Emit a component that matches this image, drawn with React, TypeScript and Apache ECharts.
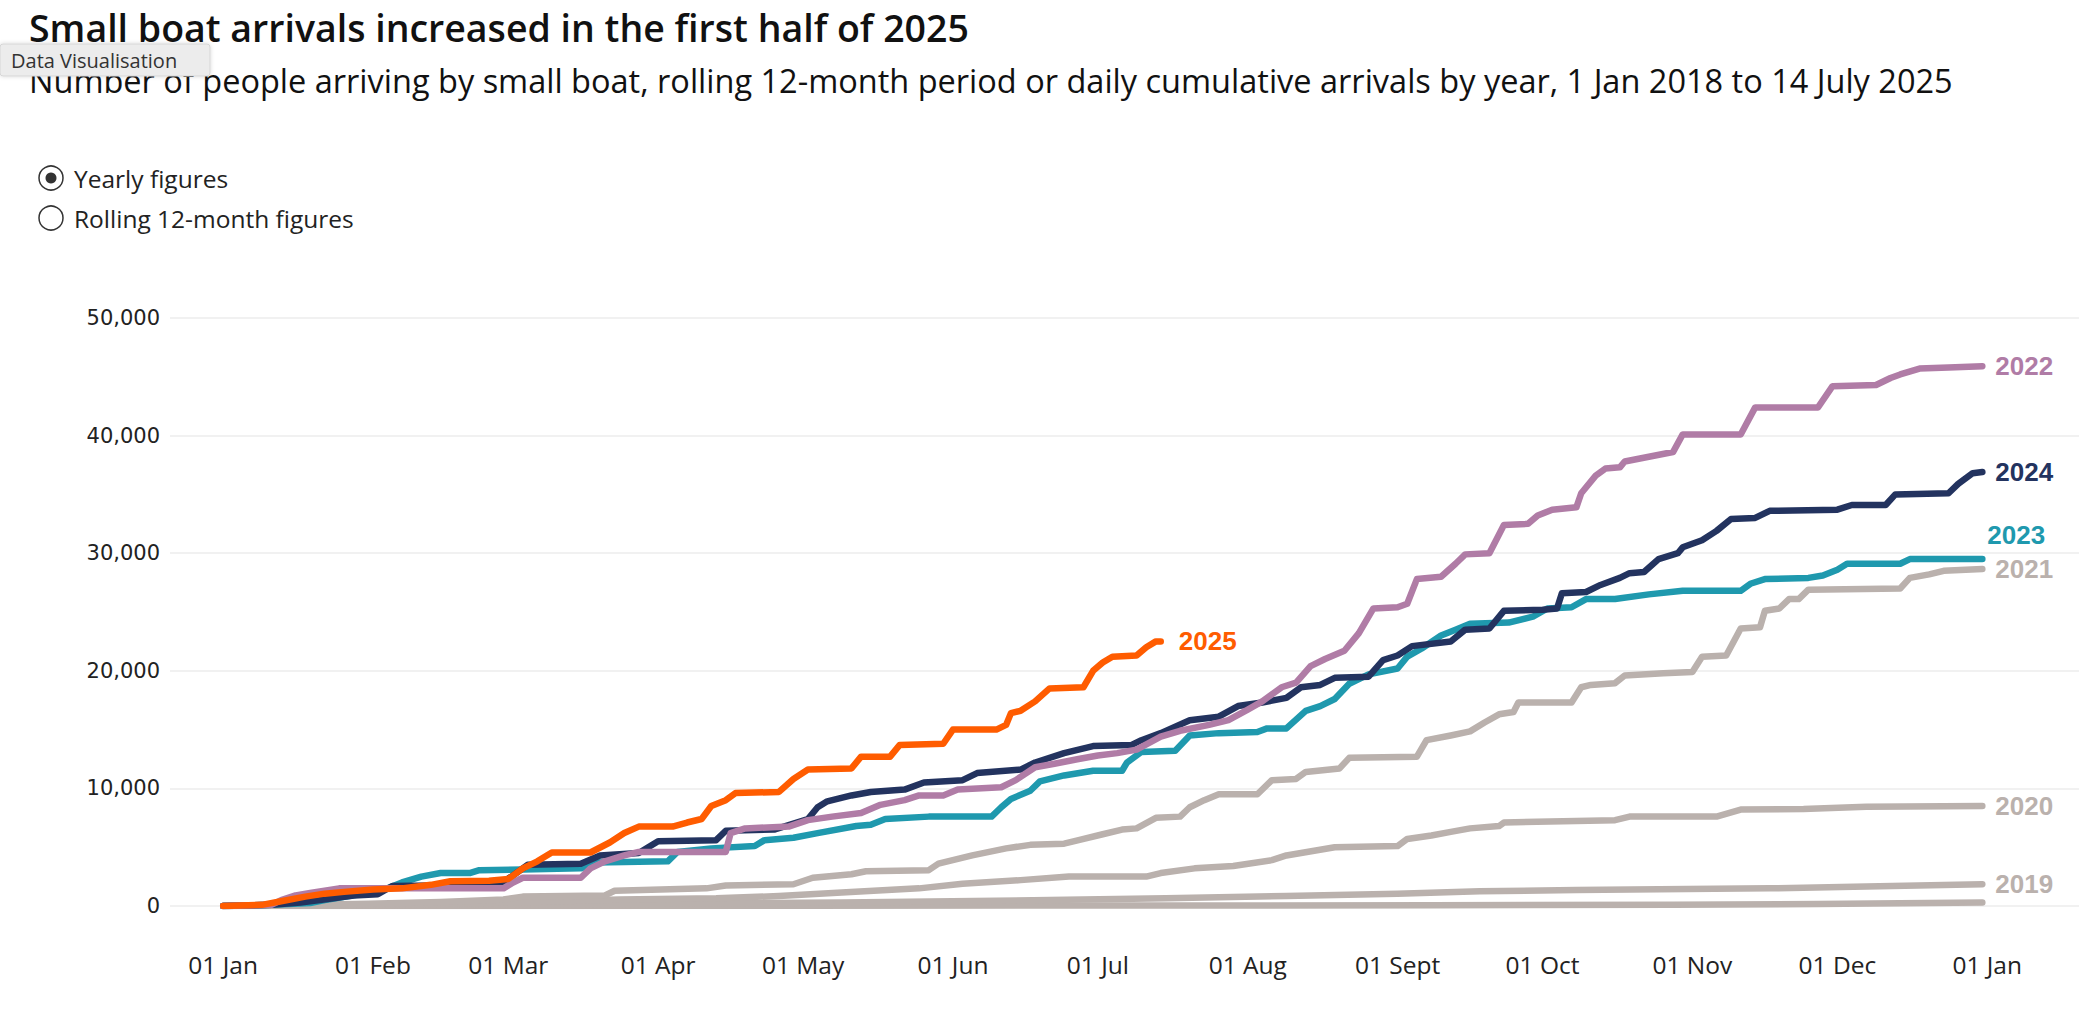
import React, { useEffect, useRef } from "react";
import * as echarts from "echarts";

// Day-of-year (0 = 1 Jan) at which each x-axis label sits
const monthStartDays = [0, 31, 59, 90, 120, 151, 181, 212, 243, 273, 304, 334, 365];
const monthLabels = ["01 Jan", "01 Feb", "01 Mar", "01 Apr", "01 May", "01 Jun", "01 Jul", "01 Aug", "01 Sept", "01 Oct", "01 Nov", "01 Dec", "01 Jan"];

// Cumulative arrivals by day of year: [day, people]
const y2018: [number, number][] = [[0, 0], [120, 20], [250, 60], [300, 100], [330, 170], [364, 300]];
const y2019: [number, number][] = [[0, 0], [30, 80], [60, 150], [90, 200], [128, 300], [160, 450], [195, 650], [220, 850], [243, 1050], [260, 1250], [280, 1350], [320, 1500], [340, 1650], [364, 1850]];
const y2020: [number, number][] = [[0, 0], [20, 100], [45, 200], [60, 300], [82, 550], [102, 650], [115, 850], [128, 1150], [144, 1500], [153, 1900], [165, 2200], [175, 2500], [191, 2500], [194, 2800], [201, 3200], [209, 3400], [217, 3900], [220, 4300], [230, 5000], [243, 5100], [245, 5700], [250, 6000], [254, 6300], [258, 6600], [264, 6800], [265, 7100], [288, 7300], [291, 7600], [309, 7600], [314, 8200], [327, 8250], [340, 8450], [364, 8500]];
const y2021: [number, number][] = [[0, 0], [15, 80], [30, 200], [45, 350], [58, 550], [62, 800], [79, 900], [81, 1300], [100, 1500], [104, 1750], [118, 1850], [122, 2400], [130, 2700], [133, 2950], [146, 3050], [148, 3600], [155, 4300], [162, 4900], [167, 5200], [174, 5300], [177, 5600], [182, 6100], [186, 6500], [189, 6600], [193, 7500], [198, 7600], [200, 8400], [203, 9000], [206, 9500], [214, 9500], [217, 10700], [222, 10800], [224, 11400], [231, 11700], [233, 12600], [247, 12700], [249, 14100], [254, 14500], [258, 14850], [261, 15600], [264, 16300], [267, 16500], [268, 17300], [279, 17300], [281, 18600], [283, 18800], [288, 18950], [290, 19600], [298, 19800], [304, 19900], [306, 21200], [311, 21300], [314, 23600], [318, 23700], [319, 25100], [322, 25300], [324, 26100], [326, 26100], [328, 26900], [347, 27000], [349, 27900], [353, 28200], [356, 28500], [364, 28650]];
const y2022: [number, number][] = [[0, 0], [10, 100], [12, 500], [15, 900], [18, 1100], [24, 1500], [58, 1500], [60, 2000], [62, 2400], [74, 2400], [76, 3200], [79, 3800], [83, 4300], [86, 4600], [104, 4600], [105, 6200], [108, 6600], [117, 6750], [121, 7300], [126, 7600], [132, 7900], [136, 8600], [141, 9000], [144, 9400], [149, 9400], [152, 9900], [161, 10100], [164, 10700], [168, 11800], [172, 12100], [177, 12500], [181, 12800], [185, 13000], [189, 13300], [194, 14400], [198, 14900], [204, 15400], [208, 15800], [212, 16700], [215, 17400], [219, 18600], [222, 19000], [225, 20400], [228, 21000], [232, 21700], [235, 23200], [238, 25300], [243, 25400], [245, 25700], [247, 27800], [252, 28000], [255, 29100], [257, 29900], [262, 30000], [265, 32400], [270, 32500], [272, 33200], [275, 33700], [280, 33900], [281, 35100], [284, 36600], [286, 37200], [289, 37300], [290, 37800], [295, 38200], [300, 38600], [302, 40100], [314, 40100], [317, 42400], [330, 42400], [333, 44200], [342, 44300], [345, 44900], [347, 45200], [351, 45700], [357, 45800], [364, 45900]];
const y2023: [number, number][] = [[0, 0], [10, 100], [18, 250], [21, 500], [27, 900], [31, 1200], [34, 1500], [37, 2000], [41, 2500], [45, 2800], [51, 2800], [53, 3050], [62, 3100], [74, 3200], [77, 3700], [92, 3800], [94, 4600], [101, 4900], [110, 5100], [112, 5600], [118, 5800], [123, 6200], [131, 6800], [134, 6900], [137, 7400], [146, 7600], [159, 7600], [161, 8400], [163, 9100], [167, 9800], [169, 10600], [174, 11100], [180, 11500], [186, 11500], [187, 12200], [190, 13100], [197, 13200], [200, 14500], [206, 14700], [214, 14800], [216, 15100], [220, 15100], [224, 16600], [227, 17000], [230, 17600], [233, 18900], [237, 19700], [243, 20200], [245, 21200], [248, 21900], [252, 23000], [255, 23500], [258, 24000], [266, 24100], [271, 24600], [274, 25300], [279, 25400], [282, 26100], [288, 26100], [295, 26500], [302, 26800], [314, 26800], [316, 27400], [319, 27800], [328, 27900], [331, 28100], [334, 28600], [336, 29100], [347, 29100], [349, 29500], [364, 29500]];
const y2024: [number, number][] = [[0, 0], [10, 100], [16, 300], [20, 500], [27, 900], [32, 1000], [35, 1700], [57, 1800], [60, 2600], [63, 3500], [74, 3600], [78, 4300], [86, 4500], [90, 5500], [102, 5600], [104, 6400], [114, 6500], [118, 7000], [121, 7400], [123, 8400], [125, 8900], [130, 9400], [134, 9700], [141, 9900], [145, 10500], [153, 10700], [156, 11300], [165, 11600], [168, 12200], [174, 13000], [180, 13600], [188, 13700], [190, 14100], [194, 14700], [200, 15800], [206, 16100], [210, 17000], [215, 17300], [220, 17700], [223, 18600], [227, 18800], [230, 19400], [237, 19500], [240, 20900], [243, 21300], [246, 22100], [254, 22500], [257, 23500], [262, 23600], [265, 25100], [273, 25200], [276, 25300], [277, 26600], [282, 26700], [285, 27300], [289, 27900], [291, 28300], [294, 28400], [297, 29500], [301, 30000], [302, 30500], [306, 31100], [309, 31900], [312, 32900], [317, 33000], [320, 33600], [334, 33700], [337, 34100], [344, 34100], [346, 35000], [357, 35100], [359, 35900], [362, 36800], [364, 36900]];
const y2025: [number, number][] = [[0, 0], [8, 100], [12, 400], [17, 800], [21, 1050], [25, 1200], [31, 1400], [37, 1500], [43, 1800], [47, 2100], [55, 2150], [59, 2300], [62, 3200], [65, 3800], [68, 4550], [76, 4550], [80, 5400], [83, 6200], [86, 6750], [93, 6750], [96, 7100], [99, 7400], [101, 8500], [104, 9000], [106, 9600], [115, 9700], [118, 10800], [121, 11600], [130, 11700], [132, 12700], [138, 12700], [140, 13700], [149, 13800], [151, 15000], [160, 15000], [162, 15400], [163, 16400], [165, 16600], [168, 17400], [171, 18500], [178, 18600], [180, 20000], [182, 20700], [184, 21200], [189, 21300], [191, 22000], [193, 22500], [194, 22500]];

const GRAY = "#bab1ad";
const C2022 = "#b07ca6";
const C2023 = "#1f99ae";
const C2024 = "#23335f";
const C2025 = "#ff5c00";

const FONT = "'Open Sans', 'Noto Sans', sans-serif";

function makeSeries(name: string, data: [number, number][], color: string, label: boolean, extra: any = {}) {
  return {
    name,
    type: "line",
    data,
    symbol: "none",
    silent: true,
    lineStyle: { color, width: 6.5, cap: "round", join: "round" },
    endLabel: label
      ? {
          show: true,
          formatter: name,
          color,
          fontFamily: "'Liberation Sans', Arial, sans-serif",
          fontWeight: "bold",
          fontSize: 26,
          distance: 13,
          ...extra,
        }
      : { show: false },
  };
}

export default function App() {
  const ref = useRef<HTMLDivElement>(null);
  useEffect(() => {
    const chart = echarts.init(ref.current!, null, { renderer: "svg" });
    const option: any = {
      animation: false,
      backgroundColor: "#ffffff",
      grid: { left: 170, right: 17, top: 318, bottom: 118 },
      xAxis: {
        type: "value",
        min: -11,
        max: 384,
        axisLine: { show: false },
        axisTick: { show: false },
        splitLine: { show: false },
        axisLabel: {
          customValues: monthStartDays,
          formatter: (v: number) => {
            const i = monthStartDays.indexOf(v);
            return i >= 0 ? monthLabels[i] : "";
          },
          margin: 46,
          fontSize: 24.5,
          color: "#222",
          fontFamily: FONT,
        },
      },
      yAxis: {
        type: "value",
        min: 0,
        max: 50000,
        interval: 10000,
        axisLine: { show: false },
        axisTick: { show: false },
        splitLine: { lineStyle: { color: "#ececec", width: 1.5 } },
        axisLabel: {
          formatter: (v: number) => v.toLocaleString("en-US"),
          margin: 10,
          fontSize: 21,
          color: "#222",
          fontFamily: "'DejaVu Sans', sans-serif",
        },
      },
      series: [
        makeSeries("2018", y2018, GRAY, false),
        makeSeries("2019", y2019, GRAY, true),
        makeSeries("2020", y2020, GRAY, true),
        makeSeries("2021", y2021, GRAY, true),
        makeSeries("2023", y2023, C2023, true, { offset: [-8, -24] }),
        makeSeries("2024", y2024, C2024, true),
        makeSeries("2022", y2022, C2022, true),
        makeSeries("2025", y2025, C2025, true, { distance: 18 }),
      ],
      graphic: [
        {
          type: "text",
          x: 29,
          y: 27,
          style: {
            text: "Small boat arrivals increased in the first half of 2025",
            font: `600 37.5px ${FONT}`,
            fill: "#111",
            verticalAlign: "middle",
          },
        },
        {
          type: "text",
          x: 29,
          y: 80,
          style: {
            text: "Number of people arriving by small boat, rolling 12-month period or daily cumulative arrivals by year, 1 Jan 2018 to 14 July 2025",
            font: `400 32.5px ${FONT}`,
            fill: "#111",
            verticalAlign: "middle",
          },
        },
        {
          type: "rect",
          shape: { x: 0, y: 44, width: 210, height: 32, r: 3 },
          style: { fill: "#ececec", stroke: "#d6d6d6", lineWidth: 1, shadowBlur: 4, shadowColor: "rgba(0,0,0,0.15)" },
          z: 100,
        },
        {
          type: "text",
          x: 11,
          y: 60,
          style: { text: "Data Visualisation", font: `400 20px ${FONT}`, fill: "#333", verticalAlign: "middle" },
          z: 101,
        },
        { type: "circle", shape: { cx: 51, cy: 178, r: 12 }, style: { fill: "#fff", stroke: "#333", lineWidth: 1.5 } },
        { type: "circle", shape: { cx: 51, cy: 178, r: 5.5 }, style: { fill: "#333" } },
        { type: "circle", shape: { cx: 51, cy: 218, r: 12 }, style: { fill: "#fff", stroke: "#333", lineWidth: 1.5 } },
        {
          type: "text",
          x: 74,
          y: 178,
          style: { text: "Yearly figures", font: `400 24.5px ${FONT}`, fill: "#222", verticalAlign: "middle" },
        },
        {
          type: "text",
          x: 74,
          y: 218,
          style: { text: "Rolling 12-month figures", font: `400 24.5px ${FONT}`, fill: "#222", verticalAlign: "middle" },
        },
      ],
    };
    chart.setOption(option);
    return () => chart.dispose();
  }, []);
  return (
    <div
      ref={ref}
      style={{ position: "absolute", left: 0, top: 0, width: 2096, height: 1024, background: "#fff" }}
    />
  );
}
